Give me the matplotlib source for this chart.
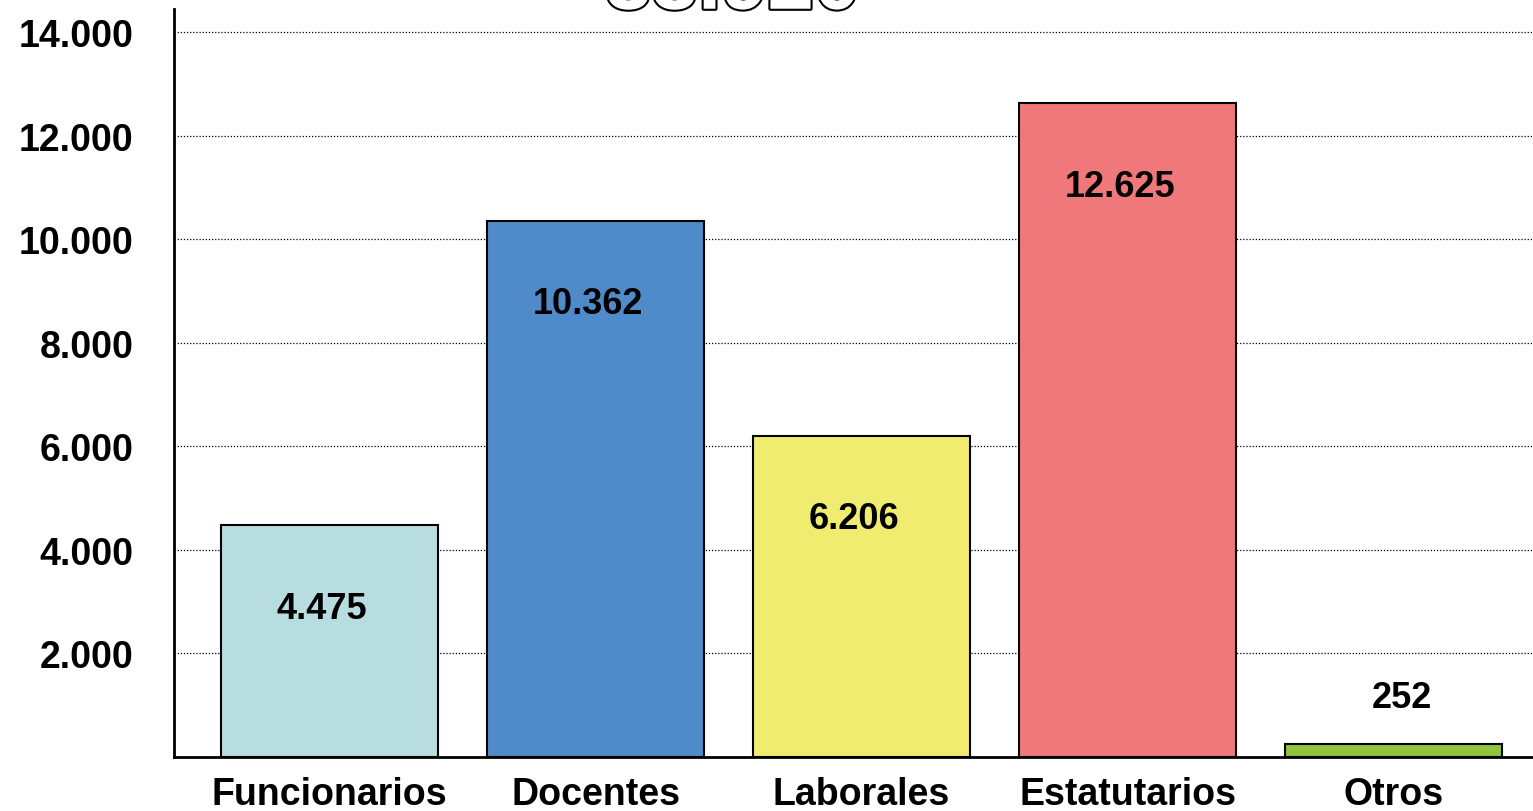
import matplotlib
matplotlib.use("Agg")
import matplotlib.pyplot as plt
import matplotlib.patheffects as pe

# -------- DATA --------
categories = ["Funcionarios", "Docentes", "Laborales", "Estatutarios", "Otros"]
values = [4475, 10362, 6206, 12625, 252]
labels = ["4.475", "10.362", "6.206", "12.625", "252"]
colors = ["#b8dde0", "#4f8bc9", "#f0ec70", "#f0787b", "#8fc43c"]
yticks = [2000, 4000, 6000, 8000, 10000, 12000, 14000]
ytick_labels = ["2.000", "4.000", "6.000", "8.000", "10.000", "12.000", "14.000"]
total_label = "33.920"

plt.rcParams["font.family"] = ["Liberation Sans", "DejaVu Sans"]
plt.rcParams["font.weight"] = "bold"

fig = plt.figure(figsize=(15.33, 8.12), dpi=100)
ax = fig.add_axes([174 / 1533, 1 - 758 / 812, 1 - 174 / 1533, (758 - 10) / 812])

x = list(range(len(categories)))
ax.bar(x, values, width=0.815, color=colors, edgecolor="black", linewidth=1.5, zorder=3)

# value labels
for i, (v, lab) in enumerate(zip(values, labels)):
    if v > 2000:
        ax.text(i - 0.03, v - 1600, lab, ha="center", va="center",
                fontsize=26, fontweight="bold", zorder=4)
    else:
        ax.text(i + 0.03, v + 900, lab, ha="center", va="center",
                fontsize=26, fontweight="bold", zorder=4)

ax.set_xlim(-0.585, 4.524)
ax.set_ylim(0, 14450)
ax.set_yticks(yticks)
ax.set_yticklabels(ytick_labels, fontsize=27, fontweight="bold")
ax.set_xticks(x)
ax.set_xticklabels(categories, fontsize=27, fontweight="bold")
ax.tick_params(axis="y", length=0, pad=29)
ax.tick_params(axis="x", length=0, pad=14)

ax.grid(axis="y", linestyle=(0, (1, 1.5)), color="black", linewidth=0.9, zorder=1)

for s in ["top", "right"]:
    ax.spines[s].set_visible(False)
ax.spines["left"].set_linewidth(2)
ax.spines["bottom"].set_linewidth(2)

# total, cut off at the top as in the original slide
fig.text(0.478, 0.988, total_label, ha="center", va="baseline", fontsize=60,
         fontweight="bold", color="white",
         path_effects=[pe.withStroke(linewidth=3, foreground="black")])

fig.savefig("out.png", dpi=100)
